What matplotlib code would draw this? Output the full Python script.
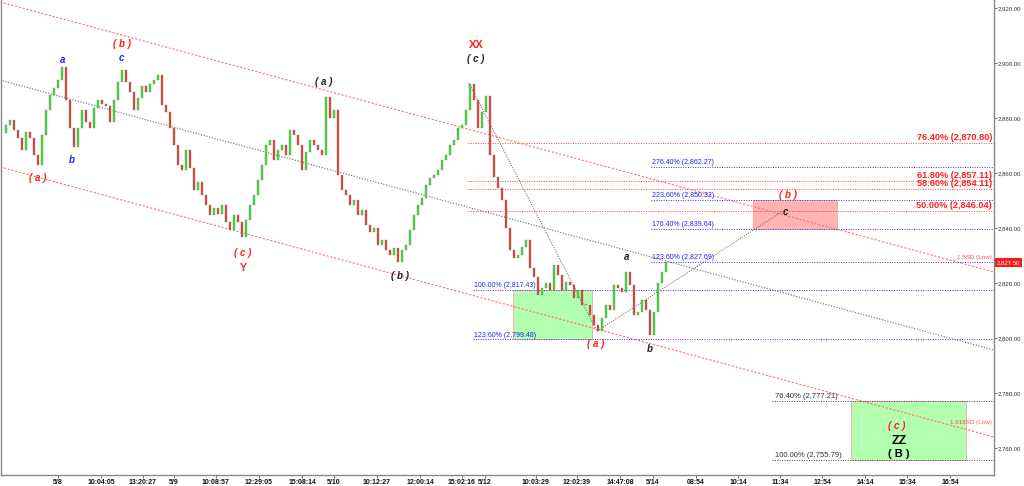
import matplotlib
matplotlib.use("Agg")
import matplotlib.pyplot as plt
from matplotlib.patches import Rectangle

plt.rcParams['font.family'] = ['Liberation Sans', 'DejaVu Sans']

# closes, one bar every 4 px of the original chart
closes = [
    2874.5, 2877.5, 2879.3, 2875.6, 2872.7, 2868.4, 2874.9, 2872.7, 2866.5, 2862.9,
    2873.8, 2882.9, 2888.4, 2890.9, 2893.8, 2898.5, 2886.5, 2876.4, 2869.5, 2876.4,
    2882.9, 2878.5, 2876.4, 2883.6, 2886.5, 2885.1, 2884.4, 2878.5, 2886.5, 2893.1,
    2897.5, 2893.1, 2889.5, 2882.9, 2887.3, 2891.6, 2889.5, 2892.4, 2893.8, 2895.6,
    2884.7, 2882.2, 2876.4, 2870.2, 2862.9, 2861.1, 2868.4, 2861.8, 2853.8, 2856.7,
    2852.0, 2848.4, 2844.7, 2847.3, 2845.1, 2848.4, 2842.2, 2839.3, 2844.7, 2842.2,
    2836.7, 2842.9, 2848.4, 2852.0, 2857.5, 2862.9, 2870.2, 2872.0, 2864.7, 2868.4,
    2870.2, 2866.5, 2875.6, 2873.8, 2870.2, 2861.1, 2867.6, 2872.0, 2870.2, 2868.4,
    2866.5, 2887.6, 2880.0, 2882.9, 2859.3, 2853.8, 2852.0, 2848.4, 2850.2, 2844.7,
    2846.5, 2841.1, 2838.5, 2840.0, 2833.8, 2835.6, 2832.0, 2830.2, 2832.7, 2827.6,
    2832.0, 2833.8, 2839.3, 2844.7, 2848.4, 2850.9, 2855.6, 2858.2, 2859.3, 2861.1,
    2864.7, 2866.5, 2870.2, 2872.0, 2876.4, 2877.5, 2882.9, 2892.4, 2886.5, 2876.4,
    2882.2, 2888.0, 2866.5, 2858.5, 2854.5, 2850.2, 2840.0, 2832.0, 2829.1, 2830.2,
    2833.1, 2835.6, 2825.5, 2822.2, 2815.6, 2818.2, 2820.0, 2817.5, 2826.5, 2822.9,
    2817.5, 2820.4, 2819.3, 2814.5, 2817.5, 2812.0, 2812.0, 2808.4, 2804.7, 2802.5,
    2807.3, 2812.0, 2810.2, 2819.3, 2818.2, 2816.7, 2824.0, 2819.3, 2808.4, 2809.5,
    2813.8, 2810.2, 2801.1, 2809.5, 2820.0, 2824.0, 2827.6,
]

tick_bars = [14, 24.75, 35.25, 43, 53.5, 64.25, 75, 83, 93.75, 104.5, 115, 120.75,
             133.5, 143.75, 154.5, 162.75, 173.5, 184, 194.5, 205, 215.75, 226.25, 237]
tick_labels = ["5/8", "10:04:05", "13:20:27", "5/9", "10:08:57", "12:29:05", "15:08:14",
               "5/10", "10:12:27", "12:00:14", "15:02:16", "5/12", "10:03:29", "12:02:39",
               "14:47:08", "5/14", "08:54", "10:14", "11:34", "12:54", "14:14", "15:34", "16:54"]
price_ticks = [2760, 2780, 2800, 2820, 2840, 2860, 2880, 2900, 2920]

# channel lines: (bar start, price start, bar end, price end)
channels = [
    (-0.5, 2922.2, 248.0, 2824.0, "#ff7070", (0, (2, 1.5))),
    (-0.5, 2893.8, 248.0, 2795.6, "#666666", (0, (1, 1.5))),
    (-0.5, 2862.2, 248.0, 2764.0, "#ff7070", (0, (2, 1.5))),
]
wave_lines = [(116.75, 2892.7, 148.75, 2802.5), (148.75, 2802.5, 195.25, 2846.2)]

# fibonacci levels
red_fib_pct = ["76.40%", "61.80%", "58.60%", "50.00%"]
red_fib_val = [2870.80, 2857.11, 2854.11, 2846.04]
blue_fib_pct = ["276.40%", "223.60%", "176.40%", "123.60%"]
blue_fib_val = [2862.27, 2850.32, 2839.64, 2827.69]
blue_fib2_pct = ["100.00%", "123.60%"]
blue_fib2_val = [2817.43, 2799.48]
black_fib_pct = ["76.40%", "100.00%"]
black_fib_val = [2777.21, 2755.79]

# target boxes: bar from, bar to, low, high, colour
boxes = [
    (127.75, 147.5, 2799.48, 2817.43, "#b3ffb0"),
    (187.75, 208.75, 2839.64, 2850.32, "#ffb3b3"),
    (212.25, 241.0, 2755.79, 2777.21, "#b3ffb0"),
]

# wave labels: text, bar, price, colour, size, bold, italic
waves = [
    ("( a )", 9, 2858.2, "#ff2020", 7, True, True),
    ("a", 15.25, 2901.1, "#2020ff", 7, True, True),
    ("b", 17.5, 2864.7, "#2020ff", 7, True, True),
    ("( b )", 30, 2906.9, "#ff2020", 7, True, True),
    ("c", 29.75, 2901.8, "#2020ff", 7, True, True),
    ("( c )", 60.25, 2830.9, "#ff2020", 7, True, True),
    ("Y", 60.25, 2825.5, "#ff2020", 7.5, True, False),
    ("( a )", 80.5, 2893.1, "#222222", 7, True, True),
    ("( b )", 99.5, 2822.5, "#222222", 7, True, True),
    ("XX", 118.5, 2906.5, "#ff2020", 8, True, False),
    ("( c )", 118.5, 2901.5, "#222222", 7, True, True),
    ("( a )", 148.5, 2797.8, "#ff2020", 7, True, True),
    ("a", 156.25, 2829.5, "#222222", 7, True, True),
    ("b", 162, 2796.0, "#222222", 7, True, True),
    ("( b )", 196.5, 2852.0, "#ff2020", 7, True, True),
    ("c", 195.75, 2845.8, "#222222", 7, True, True),
    ("( c )", 223.75, 2768.0, "#ff2020", 7, True, True),
    ("ZZ", 224.25, 2762.5, "#000000", 9, True, False),
    ("( B )", 224.25, 2757.8, "#000000", 8, True, False),
]

fig = plt.figure(figsize=(10.24, 4.86), dpi=100)
fig.patch.set_facecolor("white")
ax = fig.add_axes([1 / 1024, 11 / 486, 993 / 1024, 475 / 486])
ax.set_xlim(-0.25, 248.0)
ax.set_ylim(2750.2, 2922.9)

# boxes behind everything
for x0, x1, lo, hi, col in boxes:
    ax.add_patch(Rectangle((x0, lo), x1 - x0, hi - lo, facecolor=col,
                           edgecolor="#ffaaaa", lw=0.7, zorder=1))

for x0, y0, x1, y1, col, ls in channels:
    ax.plot([x0, x1], [y0, y1], color=col, lw=0.8, ls=ls, zorder=2)
for x0, y0, x1, y1 in wave_lines:
    ax.plot([x0, x1], [y0, y1], color="#555555", lw=0.7, ls=(0, (1, 1.5)), zorder=2)

# fib lines
for pct, val in zip(red_fib_pct, red_fib_val):
    ax.plot([116.5, 248], [val, val], color="#ff4040", lw=0.7, ls=(0, (1, 1.5)), zorder=2)
    ax.text(247.5, val + 0.4, f"{pct} ({val:,.2f})", color="#ff2020", fontsize=6.6,
            fontweight="bold", ha="right", va="bottom", zorder=5)
for pct, val in zip(blue_fib_pct, blue_fib_val):
    ax.plot([162.25, 248], [val, val], color="#3333ff", lw=0.7, ls=(0, (1, 1.5)), zorder=2)
    ax.text(162.5, val + 0.3, f"{pct} ({val:,.2f})", color="#2222ee", fontsize=5,
            ha="left", va="bottom", zorder=5)
for pct, val in zip(blue_fib2_pct, blue_fib2_val):
    ax.plot([117.75, 248], [val, val], color="#3333ff", lw=0.7, ls=(0, (1, 1.5)), zorder=2)
    ax.text(118.0, val + 0.3, f"{pct} ({val:,.2f})", color="#2222ee", fontsize=5,
            ha="left", va="bottom", zorder=5)
for pct, val in zip(black_fib_pct, black_fib_val):
    ax.plot([192.5, 248], [val, val], color="#444444", lw=0.7, ls=(0, (1, 1.5)), zorder=2)
    ax.text(193.25, val + 0.3, f"{pct} ({val:,.2f})", color="#333333", fontsize=5.5,
            ha="left", va="bottom", zorder=5)

ax.text(247.5, 2828.5, "1.5SD (Low)", color="#ff5050", fontsize=4.5, ha="right",
        va="bottom", zorder=5)
ax.text(247.5, 2768.5, "1.618SD (Low)", color="#ff5050", fontsize=4.5, ha="right",
        va="bottom", zorder=5)

# candles
for i in range(1, len(closes)):
    o, c = closes[i - 1], closes[i]
    col = "#33e033" if c >= o else "#e03a3a"
    h = c - o if abs(c - o) > 0.4 else 0.4
    ax.bar(i, h, bottom=o, width=0.72, color=col, edgecolor="#8a8a6a", lw=0.3, zorder=3)

for txt, bx, py, col, fs, bold, ital in waves:
    ax.text(bx, py, txt, color=col, fontsize=fs, ha="center", va="center",
            fontweight="bold" if bold else "normal",
            fontstyle="italic" if ital else "normal", zorder=6)

# last price tag
ax.text(1.003, 2827.5, "2,827.50", transform=ax.get_yaxis_transform(), color="white",
        fontsize=4.3, ha="left", va="center",
        bbox=dict(boxstyle="square,pad=0.3", facecolor="#ff1a1a", edgecolor="none"),
        zorder=7, clip_on=False)

ax.yaxis.tick_right()
ax.set_yticks(price_ticks)
ax.set_yticklabels([f"{p:,.2f}" for p in price_ticks], fontsize=4.3, color="#333333")
ax.tick_params(axis="y", length=2, width=0.6, pad=1, colors="#555555", labelcolor="#333333")
ax.set_xticks(tick_bars)
ax.set_xticklabels(tick_labels, fontsize=5, fontweight="bold")
ax.tick_params(axis="x", length=2, width=0.6, pad=1, colors="#555555", labelcolor="#111111")
for side in ["left", "right", "bottom"]:
    ax.spines[side].set_color("#888888")
    ax.spines[side].set_linewidth(1)
ax.spines["top"].set_visible(False)

fig.savefig("out.png", dpi=100, facecolor="white")
